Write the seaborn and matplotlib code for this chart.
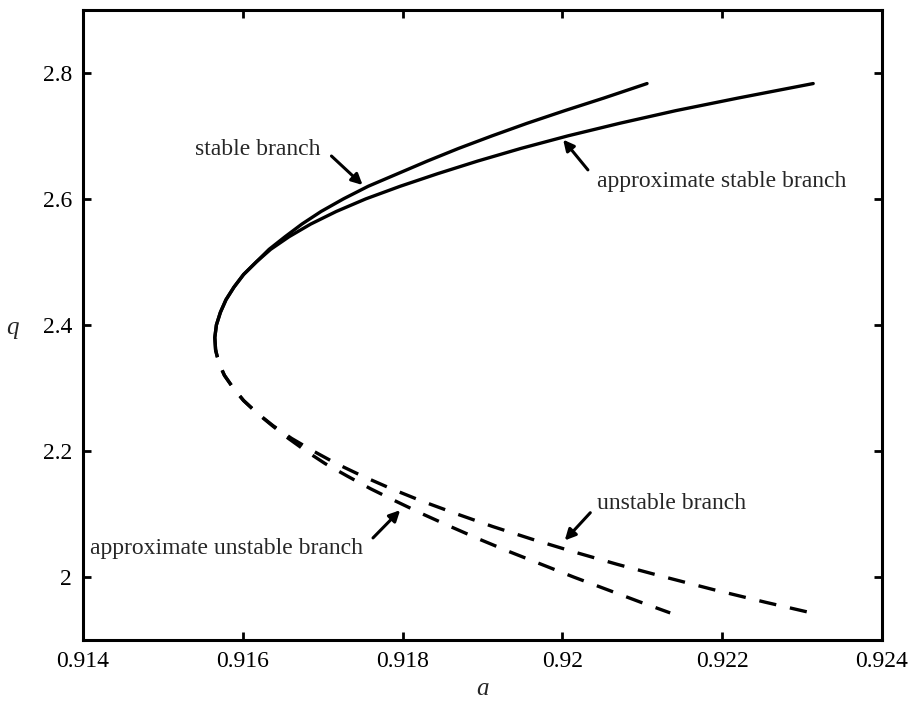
import numpy as np
import pandas as pd
import seaborn as sns
import matplotlib
matplotlib.use("Agg")
import matplotlib.pyplot as plt

# values (a, q), top end -> fold
stable_q = [2.783, 2.76, 2.74, 2.72, 2.70, 2.68, 2.66, 2.64, 2.62, 2.60, 2.58, 2.56,
            2.54, 2.52, 2.50, 2.48, 2.46, 2.44, 2.42, 2.40, 2.38, 2.36]
stable_a = [0.92106, 0.92052, 0.92003, 0.91956, 0.91912, 0.91870, 0.91831, 0.91794,
            0.91757, 0.91726, 0.91698, 0.91674, 0.91653, 0.91633, 0.91617, 0.91601,
            0.91589, 0.91579, 0.91572, 0.91567, 0.91565, 0.91566]

approx_stable_q = [2.783, 2.76, 2.74, 2.72, 2.70, 2.68, 2.66, 2.64, 2.62, 2.60, 2.58, 2.56,
                   2.54, 2.52, 2.50, 2.48, 2.46, 2.44, 2.42, 2.40, 2.38, 2.36]
approx_stable_a = [0.92314, 0.92220, 0.92142, 0.92072, 0.92007, 0.91948, 0.91894, 0.91844,
                   0.91797, 0.91754, 0.91717, 0.91685, 0.91658, 0.91635, 0.91617, 0.91601,
                   0.91589, 0.91579, 0.91572, 0.91567, 0.91565, 0.91566]

# lower side, fold -> bottom end
unstable_q = [2.36, 2.34, 2.32, 2.30, 2.28, 2.26, 2.24, 2.22, 2.20, 2.18, 2.16, 2.14,
              2.12, 2.10, 2.08, 2.06, 2.04, 2.02, 2.00, 1.98, 1.96, 1.943]
unstable_a = [0.91566, 0.91570, 0.91577, 0.91588, 0.91601, 0.91618, 0.91638, 0.91661,
              0.91688, 0.91717, 0.91750, 0.91786, 0.91825, 0.91868, 0.91913, 0.91962,
              0.92014, 0.92069, 0.92128, 0.92189, 0.92254, 0.92312]

approx_unstable_q = [2.36, 2.34, 2.32, 2.30, 2.28, 2.26, 2.24, 2.22, 2.20, 2.18, 2.16, 2.14,
                     2.12, 2.10, 2.08, 2.06, 2.04, 2.02, 2.00, 1.98, 1.96, 1.943]
approx_unstable_a = [0.91566, 0.91570, 0.91577, 0.91588, 0.91601, 0.91618, 0.91637, 0.91657,
                     0.91679, 0.91703, 0.91731, 0.91760, 0.91792, 0.91825, 0.91860, 0.91896,
                     0.91934, 0.91974, 0.92014, 0.92056, 0.92098, 0.92135]

x_ticks = [0.914, 0.916, 0.918, 0.92, 0.922, 0.924]
x_ticklabels = ['0.914', '0.916', '0.918', '0.92', '0.922', '0.924']
y_ticks = [2.0, 2.2, 2.4, 2.6, 2.8]
y_ticklabels = ['2', '2.2', '2.4', '2.6', '2.8']

sns.set_style('ticks')
plt.rcParams['font.family'] = ['Liberation Serif', 'DejaVu Serif']

fig = plt.figure(figsize=(9.12, 7.01), dpi=100)
ax = fig.add_axes([0.091, 0.087, 0.876, 0.899])

lw = 2.4
dash = (3, (5.2, 4.2))
sns.lineplot(x=stable_a, y=stable_q, sort=False, estimator=None, color='k', lw=lw, ax=ax)
sns.lineplot(x=approx_stable_a, y=approx_stable_q, sort=False, estimator=None, color='k', lw=lw, ax=ax)
sns.lineplot(x=unstable_a, y=unstable_q, sort=False, estimator=None, color='k', lw=lw,
             linestyle=dash, ax=ax)
sns.lineplot(x=approx_unstable_a, y=approx_unstable_q, sort=False, estimator=None, color='k', lw=lw,
             linestyle=dash, ax=ax)

ax.set_xlim(0.914, 0.924)
ax.set_ylim(1.9, 2.9)
ax.set_xticks(x_ticks)
ax.set_xticklabels(x_ticklabels)
ax.set_yticks(y_ticks)
ax.set_yticklabels(y_ticklabels)
ax.tick_params(direction='in', length=6, width=2, labelsize=17, top=True, right=True, pad=8, colors='k')
for s in ax.spines.values():
    s.set_linewidth(2.2)
    s.set_color('k')

ax.set_xlabel('a', fontsize=18, style='italic', va='center')
ax.set_ylabel('q', fontsize=18, style='italic', rotation=0, va='center', ha='center')
ax.xaxis.set_label_coords(0.5, -0.078)
ax.yaxis.set_label_coords(-0.088, 0.495)

arr = dict(arrowstyle='-|>', lw=2.2, color='k', mutation_scale=16, shrinkA=0, shrinkB=0)
fs = 17
ax.text(0.9154, 2.679, 'stable branch', fontsize=fs, va='center', ha='left')
ax.annotate('', xy=(0.91750, 2.622), xytext=(0.91711, 2.668), arrowprops=arr)
ax.text(0.92043, 2.627, 'approximate stable branch', fontsize=fs, va='center', ha='left')
ax.annotate('', xy=(0.92001, 2.694), xytext=(0.92032, 2.646), arrowprops=arr)
ax.text(0.91409, 2.046, 'approximate unstable branch', fontsize=fs, va='center', ha='left')
ax.annotate('', xy=(0.91797, 2.106), xytext=(0.91763, 2.062), arrowprops=arr)
ax.text(0.92043, 2.116, 'unstable branch', fontsize=fs, va='center', ha='left')
ax.annotate('', xy=(0.92003, 2.058), xytext=(0.92035, 2.102), arrowprops=arr)

fig.savefig('out.png', dpi=100)
